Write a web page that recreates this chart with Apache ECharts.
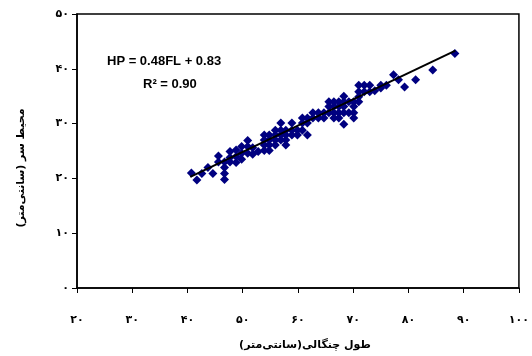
<!DOCTYPE html>
<html><head><meta charset="utf-8">
<script src="https://cdn.jsdelivr.net/npm/echarts@6/dist/echarts.min.js"></script>
<style>html,body{margin:0;padding:0;background:#fff}#c{width:532px;height:356px}</style>
</head><body><div id="c"></div>
<script>
// x tick labels (Persian digits) and y tick labels
const xTickLabels = {20:'۲۰',30:'۳۰',40:'۴۰',50:'۵۰',60:'۶۰',70:'۷۰',80:'۸۰',90:'۹۰',100:'۱۰۰'};
const yTickLabels = {0:'۰',10:'۱۰',20:'۲۰',30:'۳۰',40:'۴۰',50:'۵۰'};
const xAxisTitle = 'طول چنگالی(سانتی\u200cمتر)';
const yAxisTitle = 'محیط سر (سانتی\u200cمتر)';
const equationText = 'HP = 0.48FL + 0.83';
const r2Text = 'R² = 0.90';
// fork length values (columns) and head perimeter values in each column
const forkLength = [40.7,41.7,42.6,43.7,44.6,45.6,46.7,47.7,48.8,49.8,50.9,51.8,52.8,
  53.9,54.8,55.9,56.9,57.8,58.9,59.9,60.8,61.7,62.7,63.7,64.7,65.6,66.5,67.4,68.3,69.2,70.1,
  71.0,72.0,73.0,73.9,75.0,76.0,77.3,78.2,79.3,81.3,84.4,88.4];
const headPerimeter = [
  [21.0],[19.7],[20.9],[22.0],[20.9],[24.1,23.0],[23.0,22.0,20.9,19.8],[24.9,23.8,23.0],[25.2,24.0,22.9],
  [25.8,24.6,23.5],[26.9,25.8,24.6],[25.6,24.4],[24.9],
  [27.9,27.0,26.1,25.1],[27.9,27.0,26.1,25.1],[28.8,27.9,27.0,26.1],[30.1,28.8,27.9,27.0],
  [28.8,27.9,27.0,26.1],[30.1,28.8,27.9],[28.8,27.9],[31.0,30.1,28.8],[31.0,30.1,27.9],
  [32.0,31.0],[32.0,31.0],[32.0,31.0],[34.0,33.1,32.0],[34.0,33.1,32.0,31.0],[34.0,33.1,32.0,31.0],
  [35.0,34.0,33.1,32.0,29.9],[34.0,32.0],[34.0,33.1,32.0,31.0],
  [37.0,35.8,34.9,34.0],[37.0,35.8],[37.0,35.8],[36.0],[37.0,36.5],[37.0],[38.9],[38.0],[36.7],[38.0],[39.8],[42.8]
];
// trendline: HP = 0.48 FL + 0.83
const slope = 0.48, intercept = 0.83;
const trendRange = [40.5, 88.5];

const points = [];
forkLength.forEach((x,i)=>headPerimeter[i].forEach(y=>points.push([x,y])));
const trend = trendRange.map(x=>[x, slope*x+intercept]);

const chart = echarts.init(document.getElementById('c'));
const FONT = 'DejaVu Sans';
chart.setOption({
  animation:false,
  backgroundColor:'#fff',
  grid:{left:77,right:11,top:14,bottom:68,show:true,borderColor:'#000',borderWidth:1.5,backgroundColor:'transparent'},
  xAxis:{type:'value',min:20,max:100,interval:10,
    axisLine:{show:true,lineStyle:{color:'#000',width:1.5}},
    axisTick:{show:true,length:5,inside:false,lineStyle:{color:'#000',width:1}},
    splitLine:{show:false},
    axisLabel:{margin:27,color:'#000',fontFamily:FONT,fontWeight:'bold',fontSize:11,formatter:v=>xTickLabels[v]||''},
    name:xAxisTitle,nameLocation:'middle',nameGap:52,
    nameTextStyle:{color:'#000',fontFamily:FONT,fontWeight:'bold',fontSize:11,padding:[0,0,0,14]}
  },
  yAxis:{type:'value',min:0,max:50,interval:10,
    axisLine:{show:true,lineStyle:{color:'#000',width:1.5}},
    axisTick:{show:true,length:5,inside:false,lineStyle:{color:'#000',width:1}},
    splitLine:{show:false},
    axisLabel:{margin:8,color:'#000',fontFamily:FONT,fontWeight:'bold',fontSize:11,formatter:v=>yTickLabels[v]||''}
  },
  graphic:[
    {type:'text',left:107,top:55,style:{text:equationText,fill:'#000',font:'bold 13px "Liberation Sans", Arial'}},
    {type:'text',left:143,top:78,style:{text:r2Text,fill:'#000',font:'bold 13px "Liberation Sans", Arial'}},
    {type:'text',x:21,y:168,rotation:Math.PI/2,style:{text:yAxisTitle,fill:'#000',font:'bold 11px "DejaVu Sans"',align:'center',verticalAlign:'middle'}}
  ],
  series:[
    {type:'scatter',data:points,symbol:'diamond',symbolSize:9,itemStyle:{color:'#000080',opacity:1},z:2},
    {type:'line',data:trend,symbol:'none',lineStyle:{color:'#000',width:2},z:3}
  ]
});
</script></body></html>
